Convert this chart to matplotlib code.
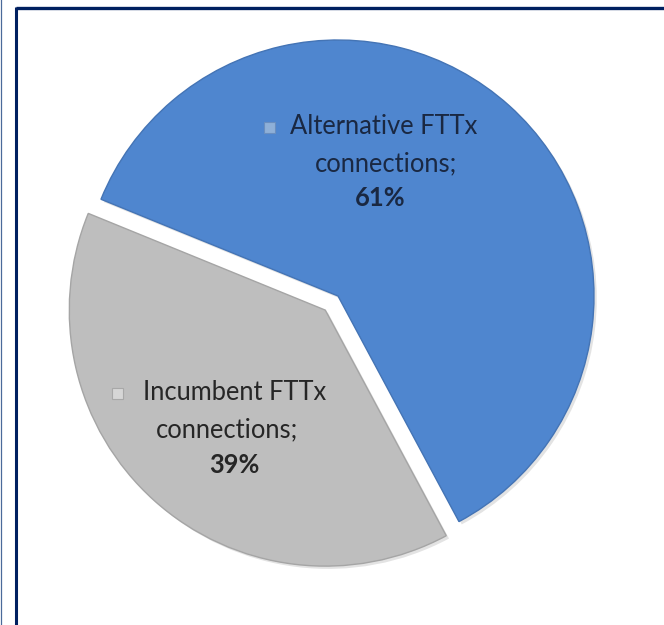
import matplotlib
matplotlib.use("Agg")
import matplotlib.pyplot as plt
import matplotlib.patheffects as pe
from matplotlib.lines import Line2D
from matplotlib.patches import Rectangle

categories = ["Alternative FTTx connections", "Incumbent FTTx connections"]
shares = [61, 39]
pct_labels = ["61%", "39%"]

W, H = 664, 625
fig = plt.figure(figsize=(W / 100, H / 100), dpi=100)
ax = fig.add_axes([0, 0, 1, 1])

def Y(py):
    return H - py

blue = "#4F86CF"
gray = "#BEBEBE"

wedges, _ = ax.pie(
    shares,
    colors=[blue, gray],
    startangle=-61.8,
    counterclock=True,
    radius=256,
    center=(338, Y(296)),
    explode=[0, 19],
    frame=True,
    wedgeprops=dict(linewidth=1.0),
)
wedges[0].set_edgecolor("#4474B5")
wedges[1].set_edgecolor("#A5A5A5")
for w in wedges:
    w.set_path_effects([pe.SimplePatchShadow(offset=(2, -2), shadow_rgbFace="#909090", alpha=0.25), pe.Normal()])

ax.set_xlim(0, W)
ax.set_ylim(0, H)
ax.set_aspect("auto")
ax.axis("off")

font = "Lato"
fs = 18.4

# Blue label
bx = 384
ax.text(bx, Y(127), categories[0].rsplit(" ", 1)[0], ha="center", va="center",
        fontsize=fs, family=font, color="#1A2842")
ax.text(bx + 2, Y(164), categories[0].rsplit(" ", 1)[1] + ";", ha="center", va="center",
        fontsize=fs, family=font, color="#1A2842")
ax.text(bx - 4, Y(198), pct_labels[0], ha="center", va="center",
        fontsize=fs, family=font, weight="bold", color="#1A2842")
ax.add_patch(Rectangle((264, Y(133)), 11, 11, facecolor="#8FB0D8", edgecolor="#6A8EBF", lw=0.8))

# Gray label
gx = 235
ax.text(gx, Y(393), categories[1].rsplit(" ", 1)[0], ha="center", va="center",
        fontsize=fs, family=font, color="#262626")
ax.text(gx - 8, Y(430), categories[1].rsplit(" ", 1)[1] + ";", ha="center", va="center",
        fontsize=fs, family=font, color="#262626")
ax.text(gx - 1, Y(465), pct_labels[1], ha="center", va="center",
        fontsize=fs, family=font, weight="bold", color="#262626")
ax.add_patch(Rectangle((112, Y(399)), 11, 11, facecolor="#D6D6D6", edgecolor="#A8A8A8", lw=0.8))

# Frame lines
fig.add_artist(Line2D([16 / W, 1], [1 - 8 / H, 1 - 8 / H], transform=fig.transFigure,
                      color="#002060", lw=2.4, solid_capstyle="butt"))
fig.add_artist(Line2D([16 / W, 16 / W], [0, 1 - 7 / H], transform=fig.transFigure,
                      color="#002060", lw=2.2, solid_capstyle="butt"))
fig.add_artist(Line2D([0.5 / W, 0.5 / W], [0, 1], transform=fig.transFigure,
                      color="#4A6A9A", lw=0.9))

fig.savefig("out.png", dpi=100)
